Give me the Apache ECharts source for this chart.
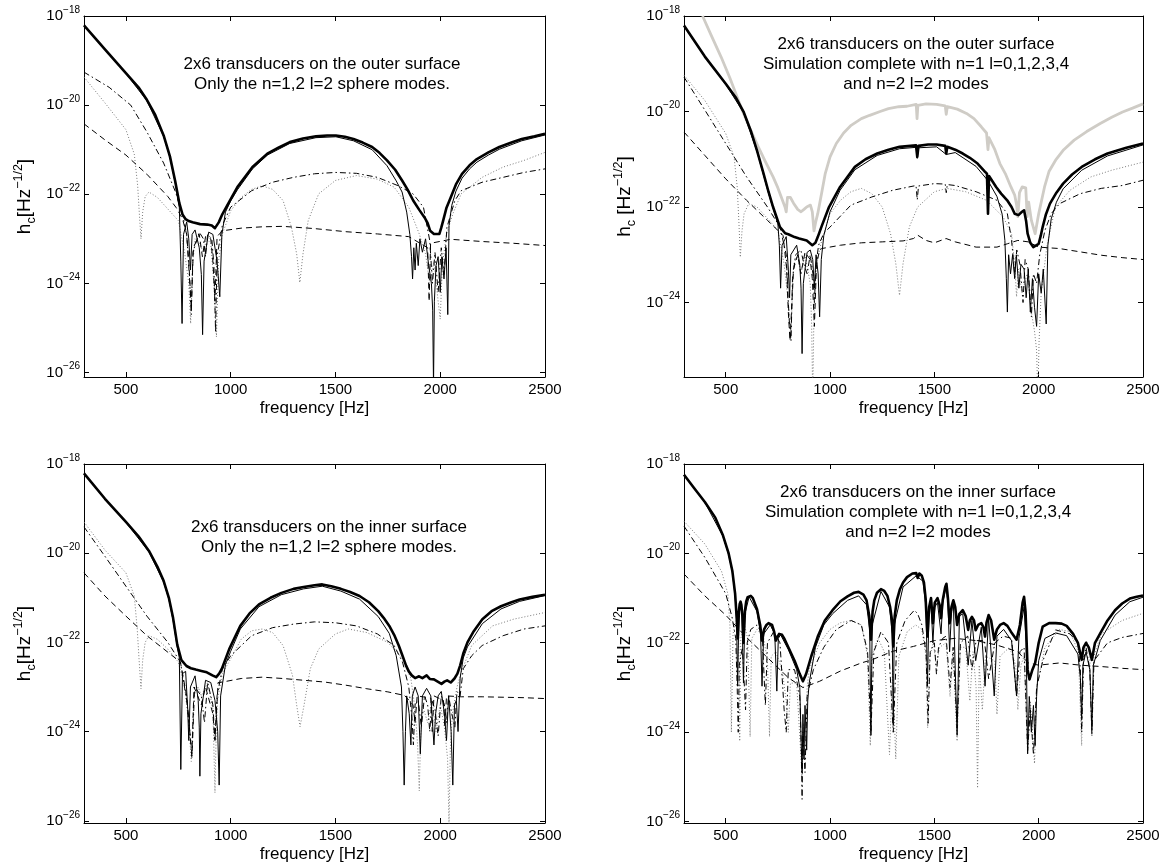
<!DOCTYPE html>
<html><head><meta charset="utf-8">
<script src="https://cdn.jsdelivr.net/npm/echarts@6/dist/echarts.min.js"></script>
<style>html,body{margin:0;padding:0;background:#fff}#c{width:1163px;height:867px}</style>
</head><body><div id="c"></div>
<script>
// values are log10 of h_c, frequency in Hz
const xTicks = [500,1000,1500,2000,2500];
const yTicks = [-26,-24,-22,-20,-18];

const p1Text = ['2x6 transducers on the outer surface','Only the n=1,2 l=2 sphere modes.'];
const p2Text = ['2x6 transducers on the outer surface','Simulation complete with n=1 l=0,1,2,3,4','and n=2 l=2 modes'];
const p3Text = ['2x6 transducers on the inner surface','Only the n=1,2 l=2 sphere modes.'];
const p4Text = ['2x6 transducers on the inner surface','Simulation complete with n=1 l=0,1,2,3,4','and n=2 l=2 modes'];

// ---------- Panel 1 ----------
const p1Thick = [[300,-18.21],[400,-18.75],[500,-19.28],[560,-19.6],[600,-19.88],[640,-20.22],[680,-20.68],[710,-21.15],[735,-21.7],[755,-22.2],[770,-22.45],[785,-22.56],[800,-22.6],[818,-22.63],[854,-22.67],[889,-22.68],[910,-22.7],[925,-22.76],[943,-22.63],[960,-22.45],[979,-22.29],[1032,-21.84],[1104,-21.39],[1175,-21.09],[1230,-20.95],[1282,-20.83],[1345,-20.75],[1407,-20.70],[1460,-20.68],[1502,-20.68],[1545,-20.71],[1586,-20.76],[1630,-20.84],[1675,-20.94],[1710,-21.07],[1746,-21.24],[1785,-21.45],[1818,-21.69],[1845,-21.9],[1871,-22.14],[1900,-22.35],[1925,-22.52],[1940,-22.65],[1952,-22.82],[1970,-22.89],[1996,-22.89],[2005,-22.75],[2014,-22.59],[2030,-22.3],[2050,-22.07],[2075,-21.78],[2104,-21.54],[2140,-21.35],[2175,-21.21],[2230,-21.06],[2282,-20.94],[2340,-20.84],[2389,-20.76],[2450,-20.7],[2500,-20.64]];
const p1Thin = [[300,-18.22],[400,-18.76],[500,-19.29],[600,-19.9],[680,-20.7],[710,-21.17],[735,-21.73],[755,-22.3],[762,-23.5],[768,-24.9],[775,-22.9],[790,-22.62],[800,-23.0],[808,-23.7],[816,-22.9],[830,-22.8],[850,-23.2],[860,-23.8],[866,-25.15],[873,-23.5],[895,-22.85],[915,-22.9],[935,-23.5],[948,-24.3],[958,-22.9],[975,-22.4],[1000,-22.15],[1032,-21.9],[1104,-21.43],[1175,-21.12],[1282,-20.86],[1407,-20.73],[1502,-20.71],[1586,-20.8],[1675,-21.0],[1746,-21.36],[1790,-21.7],[1818,-21.95],[1840,-22.4],[1855,-22.9],[1863,-23.4],[1868,-23.9],[1874,-23.2],[1880,-23.7],[1886,-23.1],[1895,-23.6],[1903,-23.0],[1915,-23.3],[1930,-23.0],[1945,-23.6],[1958,-24.0],[1964,-24.6],[1968,-26.3],[1972,-24.4],[1980,-23.6],[1990,-23.4],[2000,-24.2],[2008,-23.4],[2018,-23.9],[2028,-23.2],[2036,-24.7],[2042,-22.7],[2055,-22.25],[2075,-21.93],[2104,-21.64],[2140,-21.43],[2175,-21.28],[2230,-21.12],[2282,-20.99],[2389,-20.8],[2500,-20.67]];
const p1DashDot = [[300,-19.26],[420,-19.6],[523,-20.0],[600,-20.6],[680,-21.3],[737,-21.95],[770,-22.45],[790,-22.9],[805,-24.0],[812,-24.7],[820,-23.3],[850,-22.85],[870,-23.0],[880,-23.4],[890,-22.9],[910,-23.0],[920,-23.6],[928,-25.1],[935,-23.4],[960,-22.7],[1000,-22.29],[1100,-21.92],[1200,-21.73],[1300,-21.62],[1400,-21.54],[1500,-21.51],[1600,-21.53],[1700,-21.62],[1800,-21.81],[1870,-21.99],[1920,-22.29],[1950,-23.04],[1963,-24.0],[1975,-23.3],[1990,-24.2],[2005,-23.2],[2018,-23.8],[2032,-22.74],[2070,-22.14],[2100,-21.92],[2200,-21.73],[2300,-21.62],[2400,-21.51],[2500,-21.43]];
const p1Dotted = [[300,-19.37],[400,-19.95],[500,-20.55],[540,-21.1],[556,-21.8],[565,-22.5],[572,-23.0],[580,-22.4],[592,-22.05],[610,-21.95],[650,-22.07],[700,-22.33],[750,-22.59],[780,-23.3],[800,-24.0],[809,-24.9],[818,-23.6],[830,-23.0],[850,-23.1],[870,-23.3],[885,-23.0],[905,-23.1],[920,-24.0],[932,-25.2],[942,-23.5],[960,-22.9],[1000,-22.37],[1050,-22.07],[1100,-21.89],[1150,-21.81],[1200,-21.89],[1250,-22.14],[1290,-22.74],[1315,-23.34],[1330,-23.98],[1345,-23.34],[1370,-22.59],[1420,-21.99],[1500,-21.69],[1600,-21.58],[1700,-21.66],[1780,-21.84],[1850,-22.29],[1900,-22.89],[1930,-23.34],[1950,-24.0],[1970,-23.5],[1990,-24.4],[2000,-24.8],[2010,-23.6],[2030,-22.9],[2060,-22.44],[2100,-21.99],[2200,-21.62],[2300,-21.39],[2400,-21.24],[2500,-21.06]];
const p1Dashed = [[300,-20.42],[400,-20.78],[500,-21.12],[600,-21.55],[700,-22.05],[740,-22.3],[770,-22.55],[790,-22.9],[800,-23.5],[812,-24.55],[822,-23.2],[850,-22.9],[865,-23.4],[880,-22.95],[905,-23.0],[915,-23.5],[925,-24.4],[935,-22.95],[960,-22.82],[1050,-22.76],[1150,-22.73],[1250,-22.72],[1400,-22.77],[1550,-22.84],[1700,-22.89],[1850,-22.95],[1940,-23.2],[1947,-24.4],[1954,-23.1],[2050,-23.01],[2200,-23.06],[2350,-23.1],[2500,-23.15]];

// ---------- Panel 2 ----------
const p2Grey = [[389,-18.0],[430,-18.4],[478,-18.86],[520,-19.3],[567,-19.84],[610,-20.3],[656,-20.74],[690,-21.05],[727,-21.37],[750,-21.6],[772,-21.86],[784,-22.0],[790,-22.1],[796,-21.8],[810,-21.8],[825,-21.92],[845,-22.05],[861,-22.10],[875,-22.05],[888,-22.0],[906,-21.96],[915,-22.1],[923,-22.5],[932,-22.3],[941,-22.14],[960,-21.7],[977,-21.3],[1000,-20.95],[1030,-20.67],[1065,-20.45],[1101,-20.29],[1150,-20.15],[1190,-20.08],[1240,-20.0],[1280,-19.94],[1330,-19.9],[1369,-19.89],[1413,-19.85],[1417,-20.15],[1421,-19.87],[1460,-19.84],[1511,-19.85],[1552,-19.88],[1557,-20.06],[1562,-19.9],[1610,-19.95],[1654,-20.04],[1690,-20.15],[1725,-20.32],[1750,-20.45],[1757,-20.8],[1762,-20.55],[1790,-20.8],[1814,-21.09],[1840,-21.3],[1867,-21.58],[1885,-21.75],[1894,-21.95],[1900,-22.2],[1908,-21.7],[1921,-21.58],[1938,-21.6],[1945,-22.2],[1952,-21.9],[1965,-22.28],[1983,-22.56],[2000,-22.14],[2028,-21.58],[2050,-21.25],[2081,-21.02],[2120,-20.8],[2170,-20.6],[2230,-20.42],[2295,-20.25],[2350,-20.12],[2402,-20.01],[2450,-19.93],[2500,-19.84]];
const p2Thick = [[300,-18.2],[400,-18.85],[500,-19.42],[550,-19.72],[585,-20.0],[620,-20.4],[650,-20.82],[680,-21.28],[705,-21.68],[727,-22.0],[760,-22.42],[785,-22.55],[800,-22.57],[830,-22.63],[852,-22.66],[888,-22.70],[915,-22.8],[930,-22.75],[941,-22.63],[960,-22.4],[995,-22.0],[1048,-21.58],[1119,-21.16],[1170,-21.0],[1226,-20.88],[1280,-20.8],[1333,-20.74],[1412,-20.71],[1418,-20.95],[1424,-20.72],[1470,-20.69],[1511,-20.69],[1552,-20.72],[1557,-20.88],[1562,-20.74],[1600,-20.8],[1636,-20.88],[1670,-20.97],[1707,-21.09],[1740,-21.25],[1752,-21.3],[1757,-22.14],[1762,-21.35],[1796,-21.58],[1820,-21.72],[1849,-21.86],[1870,-22.0],[1885,-22.14],[1903,-22.17],[1920,-22.1],[1930,-22.07],[1940,-22.3],[1947,-22.56],[1960,-22.75],[1974,-22.84],[2000,-22.77],[2010,-22.6],[2019,-22.42],[2035,-22.15],[2054,-21.93],[2085,-21.7],[2117,-21.51],[2160,-21.32],[2206,-21.16],[2270,-21.0],[2330,-20.88],[2420,-20.76],[2500,-20.67]];
const p2Thin = [[300,-18.21],[400,-18.86],[500,-19.43],[585,-20.02],[650,-20.84],[705,-21.71],[727,-22.03],[750,-22.35],[757,-22.8],[763,-23.7],[770,-22.8],[790,-22.62],[800,-23.3],[806,-23.9],[812,-23.0],[840,-22.8],[855,-23.2],[861,-23.7],[866,-25.07],[872,-23.6],[890,-22.95],[905,-22.9],[917,-23.1],[925,-23.7],[933,-23.0],[943,-23.4],[950,-24.3],[958,-23.1],[970,-22.6],[1000,-22.1],[1048,-21.65],[1119,-21.22],[1226,-20.92],[1333,-20.78],[1413,-20.75],[1418,-20.98],[1424,-20.76],[1511,-20.74],[1557,-20.9],[1600,-20.86],[1700,-21.15],[1757,-21.45],[1800,-21.78],[1825,-22.15],[1838,-22.7],[1845,-23.5],[1850,-24.2],[1856,-23.0],[1865,-23.4],[1875,-23.0],[1885,-23.5],[1893,-23.0],[1905,-23.7],[1915,-23.2],[1930,-23.3],[1940,-23.9],[1950,-23.3],[1960,-24.2],[1970,-23.5],[1980,-24.1],[1990,-24.5],[2000,-23.4],[2012,-23.8],[2022,-23.3],[2036,-24.45],[2044,-22.8],[2060,-22.25],[2085,-21.9],[2117,-21.62],[2206,-21.23],[2330,-20.93],[2500,-20.7]];
const p2DashDot = [[300,-19.28],[400,-19.97],[500,-20.67],[600,-21.37],[700,-22.0],[760,-22.42],[790,-23.0],[800,-24.0],[806,-24.5],[813,-24.8],[820,-23.5],[835,-23.0],[860,-22.9],[875,-23.2],[890,-23.4],[905,-23.0],[918,-23.4],[925,-24.0],[933,-23.2],[945,-22.8],[970,-22.55],[1000,-22.42],[1100,-21.96],[1200,-21.79],[1300,-21.65],[1412,-21.55],[1418,-21.85],[1424,-21.56],[1500,-21.51],[1552,-21.52],[1557,-21.7],[1562,-21.53],[1600,-21.55],[1700,-21.68],[1800,-21.86],[1850,-22.14],[1870,-22.7],[1885,-23.4],[1895,-22.9],[1910,-23.2],[1925,-24.0],[1935,-23.1],[1950,-23.3],[1965,-24.3],[1975,-23.4],[1990,-23.6],[2005,-23.0],[2030,-22.49],[2060,-22.14],[2100,-21.93],[2200,-21.72],[2300,-21.61],[2400,-21.55],[2500,-21.44]];
const p2Dotted = [[300,-19.24],[400,-19.77],[500,-20.46],[540,-20.95],[555,-21.58],[563,-22.3],[570,-23.05],[578,-22.5],[588,-22.14],[610,-21.93],[650,-22.0],[700,-22.24],[750,-22.49],[780,-23.2],[800,-24.0],[812,-24.7],[825,-23.2],[845,-23.0],[860,-23.4],[880,-23.0],[905,-23.6],[912,-24.5],[917,-26.0],[922,-24.5],[930,-23.3],[960,-22.7],[1000,-22.14],[1050,-21.86],[1100,-21.68],[1150,-21.61],[1200,-21.72],[1250,-22.0],[1290,-22.56],[1315,-23.18],[1333,-23.85],[1350,-23.18],[1380,-22.42],[1420,-22.0],[1500,-21.68],[1560,-21.61],[1650,-21.68],[1750,-21.86],[1830,-22.21],[1870,-22.56],[1885,-23.2],[1894,-23.88],[1903,-23.3],[1920,-23.8],[1945,-23.4],[1965,-24.2],[1980,-24.6],[1990,-25.0],[1996,-26.0],[2002,-24.8],[2012,-23.8],[2040,-22.8],[2080,-22.0],[2150,-21.65],[2250,-21.37],[2350,-21.23],[2500,-21.06]];
const p2Dashed = [[300,-20.43],[400,-20.92],[500,-21.41],[600,-21.86],[700,-22.28],[750,-22.49],[775,-22.6],[792,-23.3],[800,-24.2],[808,-24.8],[815,-24.2],[825,-23.3],[845,-23.0],[860,-23.4],[880,-22.95],[905,-23.1],[915,-23.5],[925,-24.5],[935,-23.2],[950,-22.9],[960,-22.87],[1050,-22.8],[1150,-22.75],[1250,-22.73],[1350,-22.71],[1400,-22.66],[1420,-22.59],[1460,-22.7],[1500,-22.75],[1556,-22.66],[1600,-22.73],[1700,-22.84],[1800,-22.84],[1850,-22.77],[1900,-22.7],[1950,-22.73],[2000,-22.84],[2100,-22.87],[2200,-22.94],[2300,-23.01],[2400,-23.06],[2500,-23.1]];

// ---------- Panel 3 ----------
const p3Thick = [[300,-18.21],[400,-18.78],[500,-19.3],[560,-19.62],[610,-19.95],[650,-20.3],[680,-20.62],[705,-21.0],[725,-21.45],[745,-22.05],[765,-22.4],[789,-22.53],[810,-22.58],[833,-22.61],[860,-22.64],[886,-22.67],[913,-22.74],[931,-22.78],[945,-22.7],[958,-22.59],[975,-22.38],[993,-22.15],[1046,-21.63],[1090,-21.35],[1135,-21.15],[1190,-21.0],[1242,-20.89],[1300,-20.8],[1348,-20.76],[1400,-20.72],[1437,-20.70],[1480,-20.74],[1526,-20.8],[1570,-20.87],[1615,-20.96],[1660,-21.1],[1704,-21.3],[1730,-21.45],[1757,-21.63],[1780,-21.83],[1802,-22.07],[1820,-22.3],[1837,-22.52],[1850,-22.65],[1864,-22.74],[1880,-22.8],[1899,-22.76],[1915,-22.8],[1935,-22.74],[1950,-22.82],[1970,-22.83],[1988,-22.88],[2006,-22.93],[2020,-22.88],[2033,-22.85],[2050,-22.9],[2068,-22.81],[2082,-22.7],[2095,-22.52],[2110,-22.25],[2130,-22.0],[2160,-21.75],[2201,-21.48],[2245,-21.3],[2290,-21.19],[2340,-21.1],[2379,-21.04],[2440,-20.98],[2500,-20.93]];
const p3Thin = [[300,-18.22],[400,-18.79],[500,-19.31],[610,-19.97],[680,-20.65],[705,-21.03],[725,-21.5],[745,-22.1],[755,-22.35],[762,-24.85],[770,-22.7],[785,-22.65],[795,-23.5],[800,-24.2],[808,-23.0],[830,-22.75],[845,-23.3],[850,-23.9],[853,-25.0],[858,-23.6],[880,-22.85],[905,-22.9],[925,-23.3],[938,-24.0],[945,-25.2],[952,-23.2],[975,-22.5],[1000,-22.2],[1046,-21.7],[1135,-21.2],[1242,-20.93],[1348,-20.8],[1437,-20.74],[1526,-20.85],[1615,-21.03],[1704,-21.42],[1757,-21.8],[1790,-22.3],[1815,-23.0],[1822,-24.0],[1828,-25.2],[1834,-24.0],[1840,-23.2],[1852,-23.6],[1860,-24.3],[1867,-23.2],[1880,-23.0],[1895,-23.2],[1905,-24.5],[1915,-23.2],[1935,-23.03],[1955,-23.2],[1963,-23.8],[1970,-24.3],[1978,-23.6],[1990,-23.2],[2005,-23.1],[2020,-23.6],[2030,-24.2],[2040,-23.2],[2052,-24.0],[2060,-25.2],[2068,-23.4],[2077,-23.3],[2085,-24.0],[2095,-22.8],[2110,-22.35],[2130,-22.1],[2201,-21.58],[2290,-21.25],[2379,-21.08],[2500,-20.95]];
const p3DashDot = [[300,-19.41],[400,-20.07],[500,-20.74],[600,-21.41],[700,-22.0],[760,-22.44],[790,-23.3],[805,-24.0],[815,-24.6],[828,-23.0],[860,-23.2],[875,-23.8],[890,-22.9],[915,-23.4],[925,-24.2],[935,-23.2],[960,-22.6],[1000,-22.3],[1100,-21.85],[1200,-21.67],[1300,-21.59],[1400,-21.54],[1500,-21.56],[1600,-21.63],[1700,-21.81],[1780,-22.07],[1820,-22.44],[1850,-23.0],[1865,-23.7],[1872,-24.3],[1880,-23.4],[1895,-23.3],[1910,-23.9],[1925,-23.2],[1940,-23.4],[1950,-24.0],[1960,-23.3],[1975,-23.5],[1990,-24.1],[2005,-23.2],[2020,-23.4],[2030,-23.8],[2040,-23.2],[2055,-23.6],[2070,-23.9],[2080,-23.1],[2095,-23.2],[2110,-22.59],[2150,-22.3],[2200,-22.07],[2300,-21.85],[2400,-21.7],[2500,-21.63]];
const p3Dotted = [[300,-19.3],[400,-19.93],[500,-20.44],[540,-20.96],[554,-21.7],[563,-22.4],[572,-23.04],[580,-22.4],[592,-22.0],[610,-21.85],[650,-21.93],[700,-22.15],[750,-22.44],[780,-23.0],[800,-23.8],[812,-24.67],[825,-23.2],[845,-23.0],[860,-23.2],[890,-22.9],[915,-23.5],[920,-24.4],[925,-25.37],[930,-24.2],[937,-23.3],[960,-22.7],[1000,-22.37],[1050,-21.93],[1100,-21.74],[1150,-21.7],[1200,-21.78],[1250,-22.07],[1295,-22.74],[1315,-23.41],[1331,-23.89],[1350,-23.41],[1380,-22.59],[1420,-22.15],[1500,-21.81],[1562,-21.7],[1650,-21.78],[1750,-22.0],[1820,-22.37],[1860,-22.81],[1880,-23.5],[1892,-24.3],[1900,-25.33],[1906,-24.2],[1915,-23.4],[1940,-23.8],[1960,-23.3],[1980,-24.0],[2000,-23.4],[2020,-23.9],[2035,-24.6],[2042,-26.1],[2048,-24.4],[2058,-23.6],[2080,-23.0],[2100,-22.67],[2150,-22.07],[2250,-21.63],[2350,-21.48],[2500,-21.33]];
const p3Dashed = [[300,-20.44],[400,-20.96],[500,-21.41],[600,-21.85],[700,-22.22],[760,-22.44],[790,-23.2],[805,-24.0],[815,-24.5],[825,-23.0],[860,-23.4],[880,-23.0],[915,-23.6],[925,-24.2],[940,-22.9],[960,-22.89],[1050,-22.81],[1150,-22.78],[1250,-22.81],[1350,-22.85],[1450,-22.89],[1550,-22.96],[1650,-23.04],[1750,-23.11],[1830,-23.19],[1870,-23.4],[1880,-23.8],[1890,-23.2],[1955,-23.25],[1962,-24.0],[1970,-23.2],[2015,-23.3],[2022,-23.9],[2030,-23.2],[2100,-23.22],[2200,-23.22],[2300,-23.23],[2400,-23.24],[2500,-23.26]];

// ---------- Panel 4 ----------
const p4Thick = [[300,-18.24],[350,-18.55],[400,-18.85],[450,-19.2],[487,-19.6],[514,-20.0],[532,-20.4],[545,-20.9],[552,-21.4],[558,-21.9],[563,-21.3],[567,-21.13],[571,-21.08],[575,-21.15],[580,-21.4],[585,-22.0],[592,-21.3],[598,-21.08],[605,-20.98],[612,-20.94],[620,-20.95],[630,-21.0],[650,-21.25],[665,-21.6],[674,-21.95],[684,-21.7],[695,-21.6],[705,-21.56],[713,-21.56],[722,-21.6],[732,-21.75],[740,-21.95],[750,-21.85],[756,-21.8],[763,-21.79],[770,-21.82],[780,-21.9],[800,-22.1],[830,-22.4],[855,-22.7],[870,-22.86],[885,-22.7],[910,-22.3],[941,-21.86],[975,-21.5],[1012,-21.27],[1050,-21.07],[1084,-20.96],[1115,-20.88],[1137,-20.86],[1160,-20.92],[1175,-21.05],[1188,-21.4],[1196,-21.93],[1204,-21.3],[1212,-21.05],[1225,-20.88],[1244,-20.8],[1260,-20.84],[1275,-20.95],[1288,-21.2],[1297,-21.5],[1303,-22.08],[1310,-21.4],[1320,-21.05],[1335,-20.8],[1350,-20.65],[1369,-20.53],[1395,-20.45],[1413,-20.44],[1420,-20.55],[1428,-20.45],[1440,-20.5],[1450,-20.65],[1458,-21.0],[1467,-21.86],[1475,-21.2],[1484,-21.0],[1493,-21.56],[1502,-21.1],[1515,-21.0],[1525,-21.15],[1532,-21.45],[1540,-21.05],[1552,-20.75],[1558,-20.68],[1565,-21.0],[1573,-21.56],[1582,-21.2],[1591,-21.05],[1600,-21.2],[1609,-21.6],[1620,-21.35],[1636,-21.27],[1650,-21.4],[1662,-21.71],[1670,-21.5],[1680,-21.42],[1690,-21.5],[1698,-21.72],[1710,-21.6],[1725,-21.56],[1735,-21.65],[1743,-21.86],[1750,-21.55],[1760,-21.38],[1772,-21.5],[1787,-21.93],[1800,-21.7],[1815,-21.6],[1832,-21.56],[1850,-21.62],[1867,-21.75],[1894,-21.93],[1910,-21.6],[1923,-21.1],[1930,-20.97],[1937,-21.3],[1947,-22.6],[1956,-22.82],[1970,-22.6],[1983,-22.45],[2000,-22.0],[2019,-21.64],[2050,-21.56],[2081,-21.56],[2110,-21.57],[2134,-21.62],[2165,-21.8],[2188,-22.0],[2206,-22.38],[2215,-22.1],[2227,-22.0],[2240,-22.1],[2255,-22.38],[2270,-22.0],[2295,-21.79],[2330,-21.5],[2366,-21.27],[2400,-21.12],[2437,-21.01],[2470,-20.97],[2500,-20.94]];
const p4Thin = [[300,-18.25],[400,-18.86],[487,-19.62],[514,-20.03],[532,-20.43],[545,-20.95],[552,-21.5],[557,-22.97],[563,-21.4],[571,-21.12],[578,-21.4],[585,-22.9],[592,-21.35],[612,-20.97],[650,-21.3],[667,-21.8],[674,-22.97],[682,-21.8],[713,-21.6],[735,-21.8],[745,-23.08],[752,-21.9],[763,-21.82],[800,-22.15],[840,-22.6],[855,-23.0],[862,-24.3],[866,-24.9],[870,-23.6],[875,-24.6],[880,-23.4],[888,-24.4],[893,-23.3],[900,-22.9],[930,-22.1],[970,-21.6],[1012,-21.35],[1084,-21.05],[1137,-20.95],[1175,-21.15],[1190,-21.7],[1196,-24.07],[1202,-21.6],[1244,-20.85],[1285,-21.2],[1298,-21.8],[1303,-23.85],[1308,-21.6],[1350,-20.75],[1413,-20.5],[1445,-20.62],[1460,-21.2],[1467,-22.97],[1474,-21.3],[1484,-21.1],[1493,-22.0],[1502,-21.2],[1515,-21.1],[1532,-21.8],[1540,-21.1],[1556,-20.75],[1565,-21.1],[1573,-22.2],[1582,-21.3],[1591,-21.1],[1609,-24.07],[1620,-21.4],[1636,-21.35],[1662,-22.5],[1680,-21.5],[1698,-22.4],[1725,-21.65],[1743,-22.97],[1760,-21.45],[1787,-23.19],[1800,-21.85],[1832,-21.7],[1870,-21.95],[1894,-23.19],[1905,-21.9],[1930,-21.2],[1940,-22.0],[1947,-24.48],[1955,-23.2],[1965,-24.0],[1975,-23.4],[1983,-24.3],[1990,-23.2],[2000,-22.4],[2030,-21.9],[2081,-21.78],[2134,-21.84],[2188,-22.25],[2200,-22.8],[2206,-23.7],[2212,-22.5],[2227,-22.2],[2245,-22.6],[2255,-23.93],[2262,-22.5],[2295,-21.95],[2366,-21.38],[2437,-21.08],[2500,-20.98]];
const p4DashDot = [[300,-19.39],[400,-20.09],[500,-20.9],[530,-21.42],[548,-21.9],[555,-23.0],[560,-24.0],[565,-22.5],[580,-22.1],[595,-23.5],[603,-22.0],[620,-21.7],[650,-21.6],[675,-21.8],[690,-23.4],[700,-22.0],[730,-21.75],[760,-22.0],[780,-23.5],[790,-24.0],[800,-22.6],[830,-22.6],[855,-23.2],[862,-24.3],[866,-25.5],[870,-24.0],[880,-24.9],[890,-23.2],[920,-22.6],[970,-22.1],[1030,-21.7],[1101,-21.5],[1150,-21.6],[1180,-22.2],[1196,-24.0],[1210,-22.2],[1244,-21.75],[1280,-22.0],[1303,-24.0],[1320,-22.0],[1360,-21.5],[1404,-21.27],[1420,-21.35],[1440,-21.6],[1460,-22.2],[1470,-23.8],[1480,-22.2],[1500,-22.0],[1510,-22.7],[1520,-22.1],[1540,-21.9],[1556,-21.85],[1575,-23.0],[1590,-22.1],[1609,-23.9],[1625,-22.0],[1660,-21.85],[1680,-22.6],[1700,-21.95],[1740,-21.95],[1760,-22.8],[1790,-22.0],[1830,-21.85],[1870,-21.9],[1894,-23.2],[1910,-22.2],[1930,-22.1],[1947,-24.4],[1960,-23.5],[1975,-24.5],[1990,-23.0],[2020,-22.4],[2081,-21.71],[2150,-21.8],[2188,-22.0],[2200,-22.6],[2206,-24.0],[2215,-22.4],[2227,-22.1],[2245,-22.6],[2255,-24.04],[2265,-22.4],[2330,-22.0],[2400,-21.88],[2500,-21.79]];
const p4Dotted = [[300,-19.28],[400,-19.79],[480,-20.4],[510,-20.9],[520,-21.6],[527,-24.0],[535,-21.8],[550,-21.5],[562,-21.8],[567,-24.2],[572,-21.9],[590,-21.6],[605,-21.9],[617,-24.1],[625,-21.9],[650,-21.7],[680,-21.85],[700,-22.4],[710,-24.1],[718,-22.3],[740,-22.2],[770,-22.6],[790,-23.3],[800,-24.0],[810,-22.9],[840,-22.9],[860,-24.5],[866,-25.0],[872,-23.8],[880,-24.6],[890,-23.0],[900,-22.6],[950,-22.0],[1000,-21.7],[1050,-21.55],[1100,-21.5],[1150,-21.6],[1180,-22.3],[1193,-24.3],[1200,-22.3],[1230,-21.9],[1260,-22.2],[1285,-24.5],[1300,-22.6],[1315,-24.6],[1330,-22.3],[1370,-21.75],[1410,-21.6],[1440,-21.7],[1460,-22.3],[1468,-23.9],[1478,-22.3],[1495,-22.0],[1510,-22.5],[1525,-22.1],[1556,-22.0],[1575,-23.2],[1590,-22.2],[1609,-24.2],[1625,-22.1],[1650,-22.1],[1670,-23.3],[1685,-22.2],[1700,-23.0],[1707,-25.25],[1715,-22.5],[1730,-23.5],[1745,-22.3],[1790,-22.4],[1800,-23.6],[1815,-22.3],[1860,-22.1],[1890,-22.5],[1900,-23.5],[1915,-22.5],[1930,-22.3],[1947,-24.5],[1960,-23.3],[1980,-24.7],[1990,-23.0],[2030,-22.1],[2100,-21.7],[2150,-21.75],[2190,-22.2],[2206,-24.3],[2215,-22.2],[2230,-21.95],[2245,-22.3],[2255,-24.1],[2265,-22.3],[2300,-21.8],[2400,-21.5],[2500,-21.34]];
const p4Dashed = [[300,-20.46],[400,-20.95],[500,-21.38],[600,-21.88],[700,-22.33],[800,-22.78],[870,-23.0],[950,-22.86],[1050,-22.63],[1150,-22.45],[1200,-22.38],[1300,-22.19],[1400,-22.08],[1500,-21.95],[1600,-21.9],[1700,-21.95],[1800,-22.05],[1900,-22.2],[1950,-22.45],[2000,-22.5],[2100,-22.45],[2200,-22.5],[2300,-22.53],[2400,-22.57],[2500,-22.6]];

const FONT = '"Liberation Sans", Arial, Helvetica, sans-serif';
const STY = {
  grey:    {color:'#cfccc6', width:2.8, type:'solid', z:1},
  dotted:  {color:'#7a7a7a', width:1, type:[1,2], z:2},
  dashed:  {color:'#000', width:1, type:[6,4], z:3},
  dashdot: {color:'#000', width:1, type:[6,3,1.5,3], z:4},
  thin:    {color:'#000', width:1, type:'solid', z:5},
  thick:   {color:'#000', width:2.6, type:'solid', z:6}
};

const panels = [
  {grid:{left:84,top:16,width:461,height:361}, ymin:-26.1, yname:'{a|h}{b|c}{a|[Hz}{c|−1/2}{a|]}',
   lines:[['dotted',p1Dotted],['dashed',p1Dashed],['dashdot',p1DashDot],['thin',p1Thin],['thick',p1Thick]],
   text:p1Text, tx:322, ty:64},
  {grid:{left:684,top:16,width:459,height:361}, ymin:-25.56, yname:'{a|h}{b|c}{a| [Hz}{c|−1/2}{a|]}',
   lines:[['grey',p2Grey],['dotted',p2Dotted],['dashed',p2Dashed],['dashdot',p2DashDot],['thin',p2Thin],['thick',p2Thick]],
   text:p2Text, tx:916, ty:44},
  {grid:{left:84,top:464,width:461,height:359}, ymin:-26.05, yname:'{a|h}{b|c}{a|[Hz}{c|−1/2}{a|]}',
   lines:[['dotted',p3Dotted],['dashed',p3Dashed],['dashdot',p3DashDot],['thin',p3Thin],['thick',p3Thick]],
   text:p3Text, tx:329, ty:527},
  {grid:{left:684,top:464,width:459,height:359}, ymin:-26.03, yname:'{a|h}{b|c}{a|[Hz}{c|−1/2}{a|]}',
   lines:[['dotted',p4Dotted],['dashed',p4Dashed],['dashdot',p4DashDot],['thin',p4Thin],['thick',p4Thick]],
   text:p4Text, tx:918, ty:492}
];

const grid = [], xAxis = [], yAxis = [], series = [], graphic = [];
const axLine = {show:true, onZero:false, lineStyle:{color:'#000', width:1}};
panels.forEach((p, i) => {
  grid.push(Object.assign({containLabel:false, show:false}, p.grid));
  const xb = {type:'value', gridIndex:i, min:300, max:2500, axisLine:axLine,
    axisTick:{show:true, inside:true, length:5, customValues:xTicks, lineStyle:{color:'#000', width:1}},
    splitLine:{show:false}};
  xAxis.push(Object.assign({}, xb, {position:'bottom',
    axisLabel:{show:true, customValues:xTicks, margin:5, color:'#000', fontSize:15, fontFamily:FONT,
      formatter: v => String(v)},
    name:'frequency [Hz]', nameLocation:'middle', nameGap:23,
    nameTextStyle:{fontSize:17, fontFamily:FONT, color:'#000'}}));
  xAxis.push(Object.assign({}, xb, {position:'top', axisLabel:{show:false}}));
  const yt = yTicks.filter(v => v >= p.ymin);
  const yb = {type:'value', gridIndex:i, min:p.ymin, max:-18, axisLine:axLine,
    axisTick:{show:true, inside:true, length:5, customValues:yt, lineStyle:{color:'#000', width:1}},
    splitLine:{show:false}};
  yAxis.push(Object.assign({}, yb, {position:'left',
    axisLabel:{show:true, customValues:yt, margin:4,
      formatter: v => '{b|10}{s|−' + Math.round(-v) + '}',
      rich:{b:{fontSize:15, fontFamily:FONT, color:'#000', lineHeight:22},
            s:{fontSize:10, fontFamily:FONT, color:'#000', verticalAlign:'top', lineHeight:10}}},
    name:p.yname, nameLocation:'middle', nameGap:46, nameRotate:90,
    nameTextStyle:{rich:{
      a:{fontSize:19, fontFamily:FONT, color:'#000', lineHeight:26},
      b:{fontSize:12.5, fontFamily:FONT, color:'#000', verticalAlign:'bottom', lineHeight:12},
      c:{fontSize:12.5, fontFamily:FONT, color:'#000', verticalAlign:'top', lineHeight:12}}}}));
  yAxis.push(Object.assign({}, yb, {position:'right', axisLabel:{show:false}}));
  p.lines.forEach(([k, data]) => {
    const s = STY[k];
    series.push({type:'line', xAxisIndex:2*i, yAxisIndex:2*i, data:data, showSymbol:false, symbol:'none',
      clip:true, silent:true, z:s.z, lineStyle:{color:s.color, width:s.width, type:s.type, cap:'butt', join:'round'}});
  });
  p.text.forEach((t, j) => {
    graphic.push({type:'text', x:p.tx, y:p.ty + j*20, silent:true,
      style:{text:t, fontSize:17, fontFamily:FONT, fill:'#000', align:'center', verticalAlign:'middle',
             textAlign:'center', textVerticalAlign:'middle'}});
  });
});

const chart = echarts.init(document.getElementById('c'), null, {renderer:'canvas'});
chart.setOption({backgroundColor:'#fff', animation:false, grid, xAxis, yAxis, series, graphic});
</script></body></html>
